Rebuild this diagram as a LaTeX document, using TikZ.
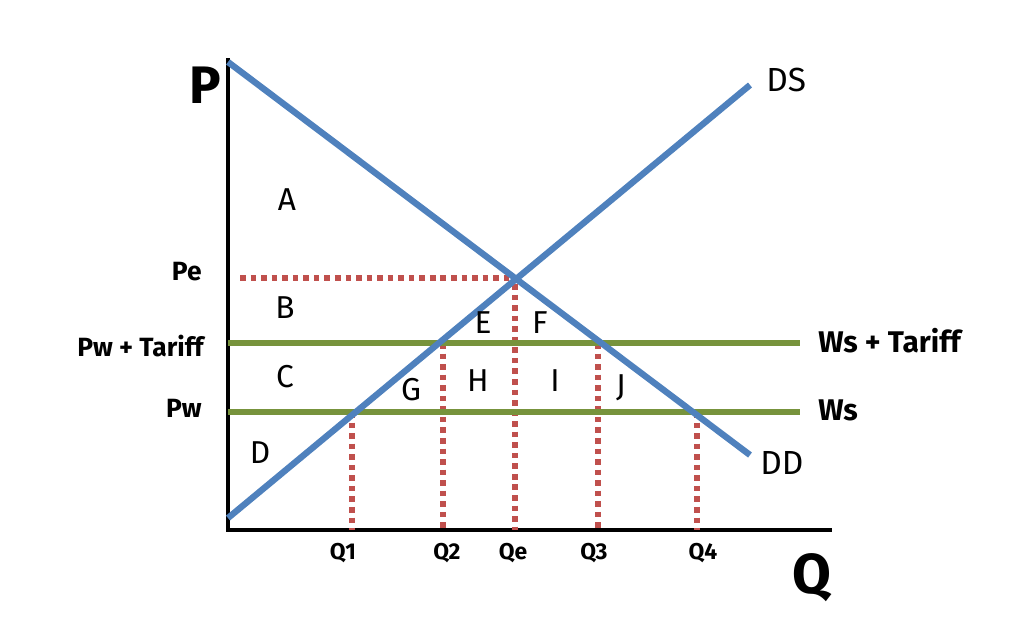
\documentclass[tikz,border=0pt]{standalone}
\usepackage{fontspec}
\setmainfont{Fira Sans}
\definecolor{ddblue}{HTML}{4F81BD}
\definecolor{wgreen}{HTML}{77933C}
\definecolor{gred}{HTML}{C0504D}
\tikzset{
  curve/.style={line width=1.8pt,color=ddblue},
  world/.style={line width=1.5pt,color=wgreen},
  guide/.style={line width=1.7pt,color=gred,dash pattern=on 1.6pt off 1.4pt},
  area/.style={font=\fontsize{9}{10}\selectfont},
  qlab/.style={font=\fontsize{6.5}{7}\selectfont\bfseries},
  plab/.style={font=\fontsize{7.5}{8}\selectfont\bfseries,anchor=east}
}
\begin{document}
\begin{tikzpicture}[x=0.01cm,y=-0.01cm]
\useasboundingbox (0,0) rectangle (1030,620);
% axes
\coordinate (o) at (228,530);
\coordinate (ptop) at (228,58);
\coordinate (qend) at (832,530);
\draw[line width=1.2pt] (ptop) -- (o) -- (qend);
\node[font=\fontsize{15}{16}\selectfont\bfseries] (P) at (205,85) {P};
\node[font=\fontsize{16}{17}\selectfont\bfseries] (Q) at (812,578) {Q};
% demand and supply
\coordinate (dd0) at (228,62);
\coordinate (dd1) at (750,455);
\coordinate (ds0) at (228,518);
\coordinate (ds1) at (750,85);
\coordinate (eq) at (515,278);
% guides
\coordinate (pe0) at (240,278);
\coordinate (q1) at (352,412); \coordinate (q1b) at (352,530);
\coordinate (q2) at (443,343); \coordinate (q2b) at (443,530);
\coordinate (qe) at (515,284); \coordinate (qeb) at (515,530);
\coordinate (q3) at (598,343); \coordinate (q3b) at (598,530);
\coordinate (q4) at (697,412); \coordinate (q4b) at (697,530);
\draw[guide] (pe0) -- (eq);
\foreach \a/\b in {q1/q1b,q2/q2b,qe/qeb,q3/q3b,q4/q4b}
  \draw[guide] (\a) -- (\b);
% world price lines
\coordinate (wt0) at (228,343); \coordinate (wt1) at (800,343);
\coordinate (w0) at (228,412); \coordinate (w1) at (800,412);
\draw[world] (wt0) -- (wt1);
\draw[world] (w0) -- (w1);
\draw[curve] (dd0) -- (dd1);
\draw[curve] (ds0) -- (ds1);
% labels
\node[font=\fontsize{9.5}{10}\selectfont,anchor=west] (DS) at (754,80) {DS};
\node[font=\fontsize{9.5}{10}\selectfont,anchor=west] (DD) at (748,463) {DD};
\node[font=\fontsize{8.5}{9}\selectfont\bfseries,anchor=west] (WsT) at (806,341) {Ws + Tariff};
\node[font=\fontsize{8.5}{9}\selectfont\bfseries,anchor=west] (Ws) at (806,410) {Ws};
\node[plab] (Pe) at (214,272) {Pe};
\node[plab] (PwT) at (216,346) {Pw + Tariff};
\node[plab] (Pw) at (214,408) {Pw};
\foreach \n/\x in {Q1/343,Q2/447,Qe/513,Q3/594,Q4/703}
  \node[qlab] (l\n) at (\x,553) {\n};
\foreach \n/\x/\y in {A/287/200,B/285/308,C/285/377,D/260/453,E/483/323,F/540/323,G/411/390,H/478/381,I/555/381,J/621/388}
  \node[area] (a\n) at (\x,\y) {\n};
\end{tikzpicture}
\end{document}
